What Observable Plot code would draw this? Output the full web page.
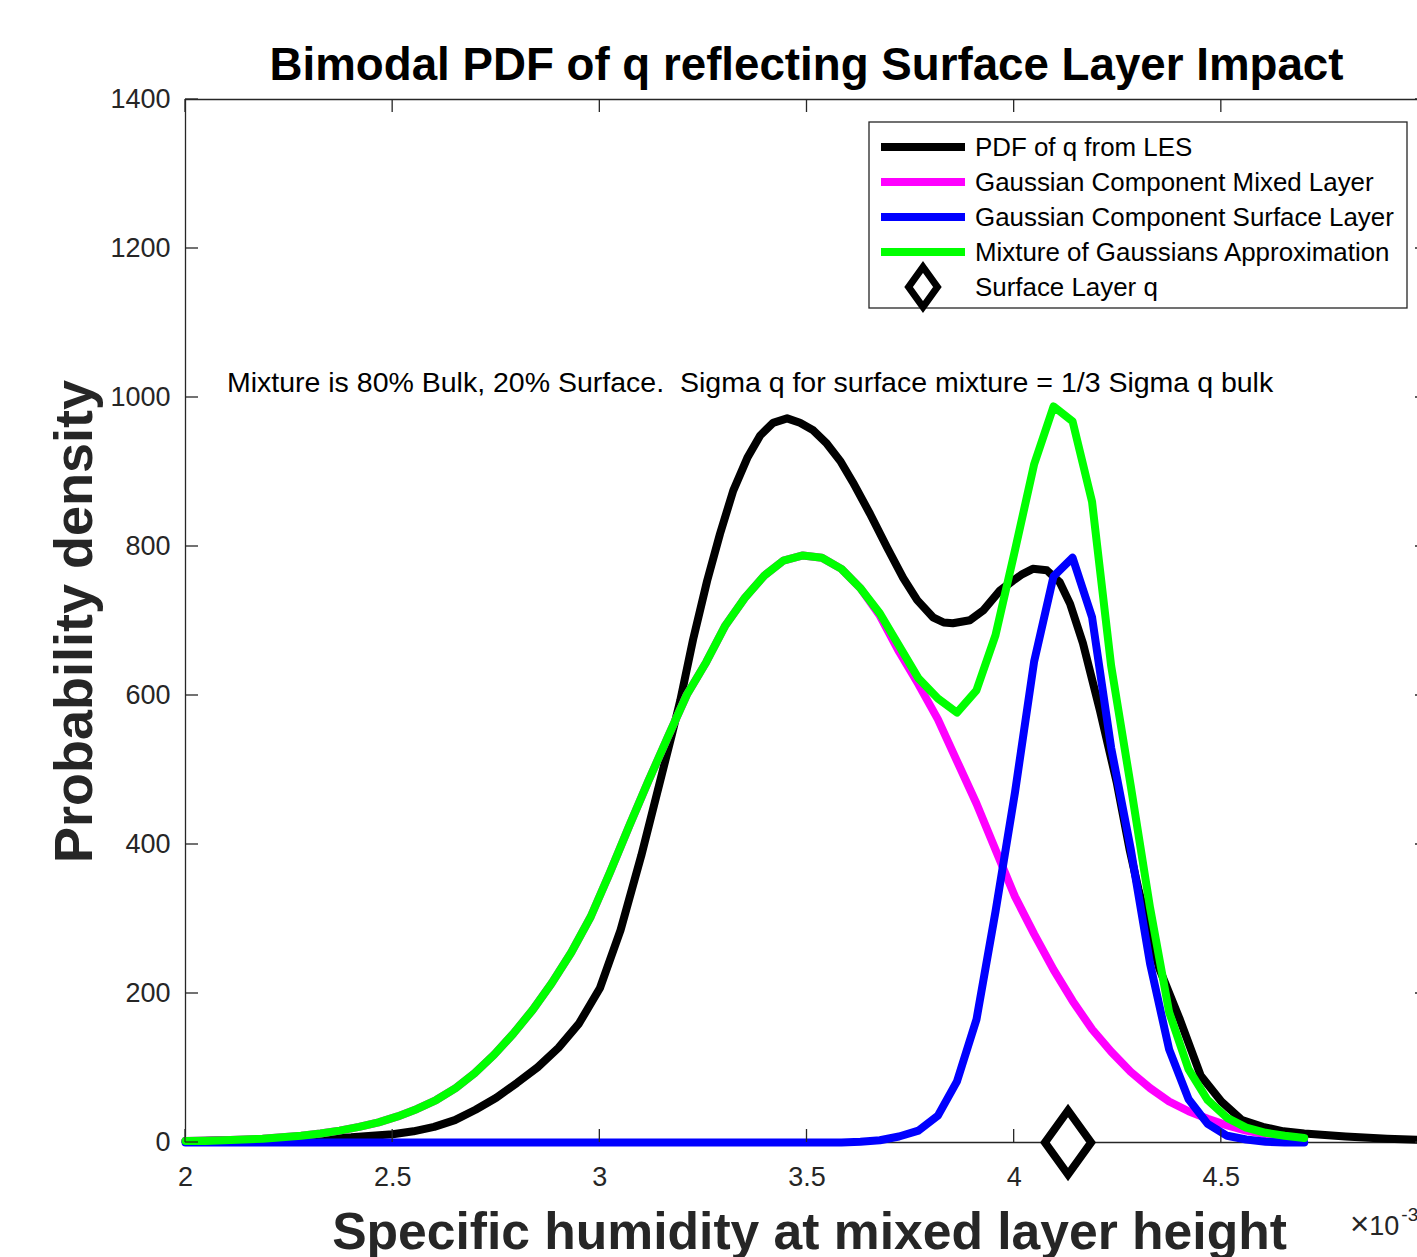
<!DOCTYPE html>
<html><head><meta charset="utf-8">
<script src="https://cdn.jsdelivr.net/npm/d3@7"></script>
<script src="https://cdn.jsdelivr.net/npm/@observablehq/plot@0.6"></script>
<style>
html,body{margin:0;padding:0;background:#fff;overflow:hidden;}
svg{display:block;}
</style>
</head><body><div id="chart"></div>
<script>
// ---------- texts ----------
const titleText = "Bimodal PDF of q reflecting Surface Layer Impact";
const xLabelText = "Specific humidity at mixed layer height";
const yLabelText = "Probability density";
const noteText = "Mixture is 80% Bulk, 20% Surface.  Sigma q for surface mixture = 1/3 Sigma q bulk";
const notePos = [2.1, 1020];
const exponentTimes = "\u00d7";
const exponentBase = "10";
const exponentSup = "-3";

// ---------- legend ----------
const seriesNames = ["PDF of q from LES", "Gaussian Component Mixed Layer", "Gaussian Component Surface Layer", "Mixture of Gaussians Approximation"];
const markerName = "Surface Layer q";
const seriesColors = ["#000000", "#ff00ff", "#0000ff", "#00ff00"];

// ---------- ticks ----------
const xTicks = [2, 2.5, 3, 3.5, 4, 4.5, 5];
const xTickLabels = ["2", "2.5", "3", "3.5", "4", "4.5"];
const yTicks = [0, 200, 400, 600, 800, 1000, 1200, 1400];

// ---------- data (q in units of 1e-3) ----------
const lesQ = [2.00,2.10,2.20,2.30,2.40,2.50,2.55,2.60,2.65,2.70,2.75,2.80,2.85,2.90,2.95,3.00,3.05,3.10,3.150,3.175,3.194,3.225,3.259,3.290,3.322,3.356,3.387,3.418,3.452,3.483,3.515,3.548,3.580,3.611,3.652,3.693,3.732,3.766,3.804,3.830,3.852,3.893,3.925,3.966,3.997,4.020,4.045,4.079,4.110,4.135,4.166,4.207,4.248,4.279,4.300,4.330,4.350,4.40,4.45,4.50,4.55,4.60,4.65,4.70,4.80,4.90,5.00];
const lesPdf = [2,3,3,5,7,11,15,21,30,44,60,80,101,127,160,207,285,385,495,550,593,675,754,817,875,919,949,966,972,966,956,938,915,886,844,799,758,728,705,698,697,701,714,741,754,763,770,768,752,723,670,580,482,392,340,275,234,165,90,55,30,21,15,12,8,5,3];

const gridQ = [2.000,2.047,2.093,2.140,2.186,2.233,2.279,2.326,2.372,2.419,2.466,2.512,2.559,2.605,2.652,2.698,2.745,2.791,2.838,2.884,2.931,2.978,3.024,3.071,3.117,3.164,3.210,3.257,3.303,3.350,3.397,3.443,3.490,3.536,3.583,3.629,3.676,3.722,3.769,3.816,3.862,3.909,3.955,4.002,4.048,4.095,4.141,4.188,4.234,4.281,4.328,4.374,4.421,4.467,4.514,4.560,4.607,4.653,4.700];
const mixedPdf = [2,2,3,4,5,7,9,12,16,21,27,35,45,57,73,93,118,146,178,214,255,303,362,425,485,544,601,645,694,731,761,781,788,785,770,744,707,659,615,568,512,455,393,330,280,232,190,152,122,95,73,55,42,32,23,16,11,8,5];
const surfacePdf = [0,0,0,0,0,0,0,0,0,0,0,0,0,0,0,0,0,0,0,0,0,0,0,0,0,0,0,0,0,0,0,0,0,0,0,1,3,8,16,36,82,165,310,470,645,760,785,705,530,395,240,125,58,25,9,4,1,0,0];
const mixturePdf = [2,2,3,4,5,7,9,12,16,21,27,35,45,57,73,93,118,146,178,214,255,303,362,425,485,544,601,645,694,731,761,781,788,785,770,744,710,667,623,596,577,607,681,795,910,988,968,860,640,480,315,175,98,57,33,20,13,9,6];
const surfaceLayerQ = [4.13];
const surfaceLayerPdf = [0];

// ---------- build tables ----------
const les = lesQ.map((q, i) => ({q, p: lesPdf[i]}));
const mixed = gridQ.map((q, i) => ({q, p: mixedPdf[i]}));
const surface = gridQ.map((q, i) => ({q, p: surfacePdf[i]}));
const mixture = gridQ.map((q, i) => ({q, p: mixturePdf[i]}));
const marker = surfaceLayerQ.map((q, i) => ({q, p: surfaceLayerPdf[i]}));

const tallDiamond = {
  draw(context, size) {
    const r = Math.sqrt(size / Math.PI);
    const w = r * 0.72;
    context.moveTo(0, -r);
    context.lineTo(w, 0);
    context.lineTo(0, r);
    context.lineTo(-w, 0);
    context.closePath();
  }
};

const W = 1417, H = 1257;
const axisColor = "#262626";
const font = "'Liberation Sans', Arial, Helvetica, sans-serif";

const chart = Plot.plot({
  width: W, height: H,
  marginTop: 99, marginBottom: 115, marginLeft: 185, marginRight: 0,
  style: {fontFamily: font, background: "#fff", color: axisColor, overflow: "hidden"},
  x: {domain: [2, 5], range: [185, 1428]},
  y: {domain: [0, 1400]},
  marks: [
    Plot.ruleY([0, 1400], {stroke: axisColor, strokeWidth: 1.3}),
    Plot.ruleX([2], {stroke: axisColor, strokeWidth: 1.3}),
    Plot.axisX({ticks: xTicks.slice(0, xTickLabels.length), tickFormat: d => xTickLabels[xTicks.indexOf(d)], tickSize: 0, tickPadding: 24, fontSize: 27, label: null, fill: axisColor}),
    Plot.axisY({ticks: yTicks, tickFormat: d => String(d), tickSize: 0, tickPadding: 15, fontSize: 27, label: null, fill: axisColor}),
    Plot.line(les, {x: "q", y: "p", stroke: seriesColors[0], strokeWidth: 8, strokeLinejoin: "round"}),
    Plot.line(mixed, {x: "q", y: "p", stroke: seriesColors[1], strokeWidth: 8, strokeLinejoin: "round"}),
    Plot.line(surface, {x: "q", y: "p", stroke: seriesColors[2], strokeWidth: 8, strokeLinejoin: "round"}),
    Plot.line(mixture, {x: "q", y: "p", stroke: seriesColors[3], strokeWidth: 8, strokeLinejoin: "round"}),
    Plot.dot(marker, {x: "q", y: "p", symbol: tallDiamond, r: 32, stroke: "#000", strokeWidth: 8, fill: "#fff"}),
    Plot.text([noteText], {x: notePos[0], y: notePos[1], text: d => d, textAnchor: "start", lineAnchor: "middle", fontSize: 28.5, fill: "#000"})
  ]
});

const svg = d3.select(chart);
svg.selectAll("text").style("white-space", "pre");
const sx = chart.scale("x"), sy = chart.scale("y");
const x0 = sx.apply(2), x1 = sx.apply(5), y0 = sy.apply(0), y1 = sy.apply(1400);
const tl = 13;
const tg = svg.append("g").attr("stroke", axisColor).attr("stroke-width", 1.3);
xTicks.forEach(v => {
  const x = sx.apply(v);
  tg.append("line").attr("x1", x).attr("x2", x).attr("y1", y0).attr("y2", y0 - tl);
  tg.append("line").attr("x1", x).attr("x2", x).attr("y1", y1).attr("y2", y1 + tl);
});
yTicks.forEach(v => {
  const y = sy.apply(v);
  tg.append("line").attr("x1", x0).attr("x2", x0 + tl).attr("y1", y).attr("y2", y);
  tg.append("line").attr("x1", x1).attr("x2", x1 - tl).attr("y1", y).attr("y2", y);
});

// title
svg.append("text").attr("x", (x0 + x1) / 2).attr("y", 80).attr("text-anchor", "middle")
  .attr("font-family", font).attr("font-weight", "bold").attr("font-size", 45.7).attr("fill", "#000").text(titleText);
// x label
svg.append("text").attr("x", (x0 + x1) / 2 + 3).attr("y", 1249).attr("text-anchor", "middle")
  .attr("font-family", font).attr("font-weight", "bold").attr("font-size", 51.6).attr("fill", axisColor).text(xLabelText);
// y label
svg.append("text").attr("transform", `translate(92, ${(y0 + y1) / 2 + 1}) rotate(-90)`).attr("text-anchor", "middle")
  .attr("font-family", font).attr("font-weight", "bold").attr("font-size", 54).attr("fill", axisColor).text(yLabelText);
// exponent
const ex = svg.append("text").attr("x", 1350).attr("y", 1235).attr("text-anchor", "start")
  .attr("font-family", font).attr("font-size", 27).attr("fill", axisColor);
ex.append("tspan").attr("font-size", 33).text(exponentTimes);
ex.append("tspan").text(exponentBase);
ex.append("tspan").attr("font-size", 19).attr("dy", -14).attr("dx", 2).text(exponentSup);

// legend
const lg = svg.append("g").attr("font-family", font).attr("text-anchor", "start");
lg.append("rect").attr("x", 869).attr("y", 122).attr("width", 538).attr("height", 186)
  .attr("fill", "#fff").attr("stroke", axisColor).attr("stroke-width", 1.3);
seriesNames.forEach((name, i) => {
  const y = 147 + i * 35;
  lg.append("line").attr("x1", 881).attr("x2", 965).attr("y1", y).attr("y2", y)
    .attr("stroke", seriesColors[i]).attr("stroke-width", 8);
  lg.append("text").attr("x", 975).attr("y", y).attr("dy", "0.35em").attr("text-anchor", "start")
    .attr("font-size", 25.9).attr("fill", "#000").text(name);
});
{
  const y = 147 + 4 * 35;
  lg.append("path").attr("transform", `translate(923, ${y})`)
    .attr("d", d3.symbol(tallDiamond, Math.PI * 20 * 20)())
    .attr("fill", "#fff").attr("stroke", "#000").attr("stroke-width", 7);
  lg.append("text").attr("x", 975).attr("y", y).attr("dy", "0.35em").attr("text-anchor", "start")
    .attr("font-size", 25.9).attr("fill", "#000").text(markerName);
}

document.getElementById("chart").appendChild(chart);
</script>
</body></html>
